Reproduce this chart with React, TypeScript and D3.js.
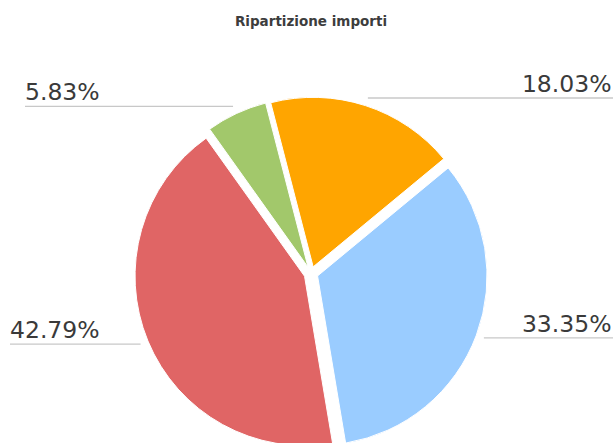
import React, { useEffect, useRef } from "react";
import * as d3 from "d3";

// chart data
const categories = ["A", "B", "C", "D"];
const shares = [18.03, 33.35, 42.79, 5.83];
const sliceColors = ["#FFA500", "#9ACCFF", "#E06565", "#A2C86B"];
const title = "Ripartizione importi";

// layout
const width = 616;
const height = 443;
const center = { x: 311, y: 273.5 };
const radius = 169.5;
const explode = 7;
const startDeg = -14.5;
// outer end of each label's underline (left side starts, right side ends)
const labelEdge = [613, 613, 10, 25];

const App = () => {
  const ref = useRef<SVGSVGElement>(null);

  useEffect(() => {
    const svg = d3.select(ref.current);
    svg.selectAll("*").remove();

    svg
      .append("text")
      .attr("x", center.x)
      .attr("y", 25.5)
      .attr("text-anchor", "middle")
      .style("font-family", "DejaVu Sans, Verdana, sans-serif")
      .style("font-weight", "bold")
      .style("font-size", "13.5px")
      .attr("fill", "#3d3d3d")
      .text(title);

    const data = categories.map((c, i) => ({ key: c, value: shares[i], idx: i }));
    const start = (startDeg * Math.PI) / 180;
    const pie = d3
      .pie<any>()
      .sort(null)
      .value((d) => d.value)
      .startAngle(start)
      .endAngle(start + 2 * Math.PI);
    const arcs = pie(data);
    const arc = d3.arc<any>().innerRadius(0).outerRadius(radius);

    const g = svg.append("g").attr("transform", `translate(${center.x},${center.y})`);

    g.selectAll("path")
      .data(arcs)
      .enter()
      .append("path")
      .attr("d", arc)
      .attr("fill", (d) => sliceColors[d.data.idx])
      .attr("stroke", "#fff")
      .attr("stroke-width", 1)
      .attr("transform", (d) => {
        const mid = (d.startAngle + d.endAngle) / 2;
        return `translate(${Math.sin(mid) * explode},${-Math.cos(mid) * explode})`;
      });

    const labels = svg.append("g");
    arcs.forEach((d) => {
      const mid = (d.startAngle + d.endAngle) / 2;
      const r = radius + explode + 8;
      const px = center.x + Math.sin(mid) * r;
      const py = center.y - Math.cos(mid) * r;
      const right = px > center.x;
      const edge = labelEdge[d.data.idx];

      labels
        .append("line")
        .attr("x1", px)
        .attr("x2", edge)
        .attr("y1", py)
        .attr("y2", py)
        .attr("stroke", "#c8c8c8")
        .attr("stroke-width", 1.3);

      labels
        .append("text")
        .attr("x", right ? edge - 1.5 : edge)
        .attr("y", py - 6)
        .attr("text-anchor", right ? "end" : "start")
        .style("font-family", "DejaVu Sans, Verdana, sans-serif")
        .style("font-size", "23.5px")
        .attr("fill", "#3a3a3a")
        .text(d3.format(".2f")(d.data.value) + "%");
    });
  }, []);

  return (
    <svg
      ref={ref}
      width={width}
      height={height}
      style={{ position: "absolute", left: 0, top: 0, background: "#fff" }}
    />
  );
};

export default App;
